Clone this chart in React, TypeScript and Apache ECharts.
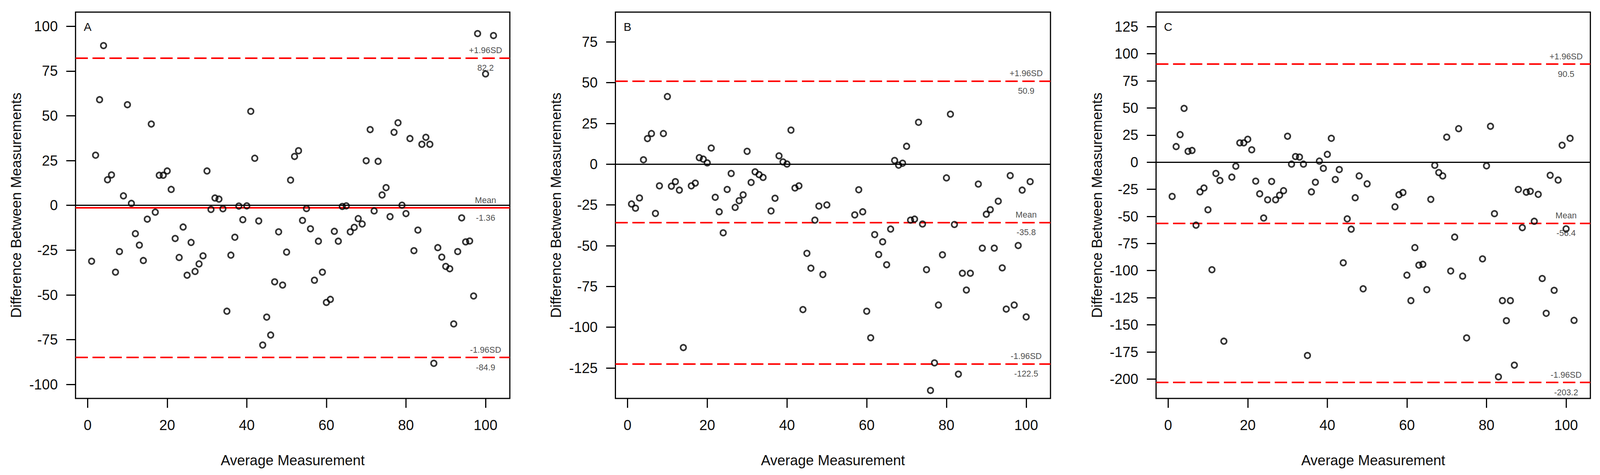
import React, { useEffect, useRef, useState } from "react";
import * as echarts from "echarts";

// ---------------- data ----------------
const A_X = [1,2,3,4,5,6,7,8,9,10,11,12,13,14,15,16,17,18,19,20,21,22,23,24,25,26,27,28,29,30,31,32,33,34,35,36,37,38,39,40,41,42,43,44,45,46,47,48,49,50,51,52,53,54,55,56,57,58,59,60,61,62,63,64,65,66,67,68,69,70,71,72,73,74,75,76,77,78,79,80,81,82,83,84,85,86,87,88,89,90,91,92,93,94,95,96,97,98,100,102];
const A_Y = [-31.2,28.0,59.0,89.2,14.3,17.0,-37.3,-25.8,5.3,56.2,1.1,-15.8,-22.2,-30.8,-7.7,45.4,-3.8,16.8,16.8,19.2,8.9,-18.5,-29.1,-12.1,-39.0,-20.7,-36.9,-32.7,-28.2,19.2,-2.3,4.1,3.5,-1.9,-59.1,-27.8,-17.8,-0.4,-8.0,-0.3,52.5,26.3,-8.7,-78.0,-62.4,-72.4,-42.7,-14.8,-44.5,-26.1,14.1,27.3,30.5,-8.4,-1.8,-13.1,-41.8,-20.0,-37.3,-54.2,-52.5,-14.5,-20.0,-0.6,-0.3,-14.8,-12.3,-7.4,-10.4,24.9,42.3,-3.1,24.6,5.8,9.9,-6.3,40.8,46.1,0.1,-4.6,37.3,-25.3,-13.8,34.1,38.0,34.1,-88.2,-23.6,-28.9,-34.1,-35.4,-66.2,-25.8,-7.0,-20.4,-19.9,-50.6,95.9,73.4,94.8];

const B_X = [1,2,3,4,5,6,7,8,9,10,11,12,13,14,16,17,18,19,20,21,22,23,24,25,26,27,28,29,30,31,32,33,34,36,37,38,39,40,41,42,43,44,45,46,47,48,49,50,57,58,59,60,61,62,63,64,65,66,67,68,69,70,71,72,73,74,75,76,77,78,79,80,81,82,83,84,85,86,88,89,90,91,92,93,94,95,96,97,98,99,100,101];
const B_Y = [-24.4,-27.0,-20.7,2.7,15.7,18.8,-30.2,-13.3,18.8,41.5,-13.5,-10.7,-15.9,-112.5,-13.3,-11.6,4.0,3.1,0.8,9.9,-20.3,-29.2,-42.1,-15.5,-5.7,-26.5,-22.4,-18.8,7.9,-11.2,-4.7,-6.4,-8.1,-28.7,-20.9,5.1,1.4,0.1,20.9,-14.6,-13.3,-89.2,-54.7,-63.8,-34.3,-25.7,-67.7,-25.0,-31.1,-15.7,-29.2,-90.2,-106.5,-43.2,-55.4,-47.6,-61.7,-39.8,2.3,-0.6,0.6,11.0,-34.3,-33.7,25.7,-36.7,-64.7,-138.8,-121.9,-86.4,-55.6,-8.4,30.7,-37.0,-128.8,-66.9,-77.2,-66.9,-12.2,-51.5,-30.7,-27.9,-51.5,-22.7,-63.6,-88.9,-7.0,-86.4,-49.9,-15.9,-93.7,-10.7];

const C_X = [1,2,3,4,5,6,7,8,9,10,11,12,13,14,16,17,18,19,20,21,22,23,24,25,26,27,28,29,30,31,32,33,34,35,36,37,38,39,40,41,42,43,44,45,46,47,48,49,50,57,58,59,60,61,62,63,64,65,66,67,68,69,70,71,72,73,74,75,79,80,81,82,83,84,85,86,87,88,89,90,91,92,93,94,95,96,97,98,99,100,101,102];
const C_Y = [-31.6,14.4,25.4,49.6,10.0,10.8,-58.1,-27.4,-23.8,-43.9,-99.2,-10.4,-16.9,-165.1,-13.8,-3.7,17.8,17.8,21.1,11.4,-17.5,-29.2,-51.5,-34.7,-17.8,-34.7,-30.5,-26.3,23.9,-1.8,5.2,4.7,-1.8,-178.3,-27.4,-18.5,1.0,-5.7,7.2,22.0,-16.0,-6.8,-92.8,-52.3,-61.8,-32.8,-12.7,-116.8,-20.0,-41.2,-30.0,-28.0,-104.2,-127.7,-78.8,-95.0,-94.2,-117.6,-34.3,-2.9,-9.6,-12.7,23.1,-100.4,-69.1,30.9,-105.1,-162.1,-89.2,-3.4,33.1,-47.5,-198.0,-127.7,-146.2,-127.7,-187.2,-25.2,-60.4,-27.7,-26.9,-54.5,-29.7,-107.3,-139.4,-12.1,-118.2,-16.5,15.6,-61.5,22.0,-145.9];

const PANEL_NAMES = ["A", "B", "C"];
const UPPER = [82.2, 50.9, 90.5];
const MEAN = [-1.36, -35.8, -56.4];
const LOWER = [-84.9, -122.5, -203.2];
const UPPER_TEXT = ["82.2", "50.9", "90.5"];
const MEAN_TEXT = ["-1.36", "-35.8", "-56.4"];
const LOWER_TEXT = ["-84.9", "-122.5", "-203.2"];
const LABEL_X = 100;

const X_TICKS = [0, 20, 40, 60, 80, 100];
const A_Y_TICKS = [-100, -75, -50, -25, 0, 25, 50, 75, 100];
const B_Y_TICKS = [-125, -100, -75, -50, -25, 0, 25, 50, 75];
const C_Y_TICKS = [-200, -175, -150, -125, -100, -75, -50, -25, 0, 25, 50, 75, 100, 125];

const X_MIN = -3.04;
const X_MAX = 106.1;
const Y_MIN = [-107.8, -143.7, -217.9];
const Y_MAX = [107.9, 93.3, 138.4];

// ---------------- layout / style ----------------
const DESIGN_W = 4152;
const DESIGN_H = 1216;
const FONT = "'Liberation Sans', Arial, Helvetica, sans-serif";
const GRIDS = [
  { left: 196, width: 1127 },
  { left: 1597, width: 1129 },
  { left: 3000, width: 1127 },
];
const GRID_TOP = 31;
const GRID_HEIGHT = 989;
const TEXT_COLOR = "#0d0d0d";
const NOTE_COLOR = "#1a1a1a";
const RED = "#ff0000";
const DASH = [32, 12];

function buildOption() {
  const xs = [A_X, B_X, C_X];
  const ys = [A_Y, B_Y, C_Y];
  const yTicks = [A_Y_TICKS, B_Y_TICKS, C_Y_TICKS];

  const grid = GRIDS.map((g) => ({
    left: g.left,
    top: GRID_TOP,
    width: g.width,
    height: GRID_HEIGHT,
    show: true,
    borderColor: "#000",
    borderWidth: 3,
    backgroundColor: "transparent",
    containLabel: false,
    outerBoundsMode: "none",
  }));

  const xAxis = GRIDS.map((_, i) => ({
    type: "value",
    gridIndex: i,
    min: X_MIN,
    max: X_MAX,
    axisLine: { show: false, onZero: false },
    splitLine: { show: false },
    axisTick: {
      show: true,
      customValues: X_TICKS,
      length: 24,
      lineStyle: { color: "#000", width: 3 },
    },
    axisLabel: {
      customValues: X_TICKS,
      margin: 50,
      fontSize: 37,
      color: TEXT_COLOR,
      fontFamily: FONT,
    },
    name: "Average Measurement",
    nameLocation: "middle",
    nameGap: 140,
    nameTextStyle: { fontSize: 37, color: TEXT_COLOR, fontFamily: FONT },
  }));

  const yAxis = GRIDS.map((_, i) => ({
    type: "value",
    gridIndex: i,
    min: Y_MIN[i],
    max: Y_MAX[i],
    axisLine: { show: false, onZero: false },
    splitLine: { show: false },
    axisTick: {
      show: true,
      customValues: yTicks[i],
      length: 24,
      lineStyle: { color: "#000", width: 3 },
    },
    axisLabel: {
      customValues: yTicks[i],
      margin: 46,
      fontSize: 37,
      color: TEXT_COLOR,
      fontFamily: FONT,
    },
    name: "Difference Between Measurements",
    nameLocation: "middle",
    nameRotate: 90,
    nameGap: 135,
    nameTextStyle: { fontSize: 37, color: TEXT_COLOR, fontFamily: FONT },
  }));

  const series: any[] = [];
  GRIDS.forEach((_, i) => {
    series.push({
      type: "scatter",
      xAxisIndex: i,
      yAxisIndex: i,
      data: xs[i].map((x, k) => [x, ys[i][k]]),
      symbol: "circle",
      symbolSize: 14.5,
      itemStyle: { color: "rgba(0,0,0,0)", borderColor: "#000", borderWidth: 4 },
      z: 3,
      markLine: {
        silent: true,
        symbol: ["none", "none"],
        label: { show: false },
        z: 2,
        data: [
          { yAxis: 0, lineStyle: { color: "#000", width: 3, type: "solid" } },
          { yAxis: UPPER[i], lineStyle: { color: RED, width: 4, type: DASH } },
          { yAxis: MEAN[i], lineStyle: { color: RED, width: 4, type: i === 0 ? "solid" : DASH } },
          { yAxis: LOWER[i], lineStyle: { color: RED, width: 4, type: DASH } },
        ],
      },
    });
    series.push({
      type: "scatter",
      xAxisIndex: i,
      yAxisIndex: i,
      symbolSize: 0,
      silent: true,
      z: 4,
      data: [
        { value: [LABEL_X, UPPER[i]], name: "+1.96SD" },
        { value: [LABEL_X, MEAN[i]], name: "Mean" },
        { value: [LABEL_X, LOWER[i]], name: "-1.96SD" },
      ],
      label: {
        show: true,
        position: "top",
        distance: 9,
        formatter: "{b}",
        fontSize: 22,
        color: NOTE_COLOR,
        fontFamily: FONT,
      },
    });
    series.push({
      type: "scatter",
      xAxisIndex: i,
      yAxisIndex: i,
      symbolSize: 0,
      silent: true,
      z: 4,
      data: [
        { value: [LABEL_X, UPPER[i]], name: UPPER_TEXT[i] },
        { value: [LABEL_X, MEAN[i]], name: MEAN_TEXT[i] },
        { value: [LABEL_X, LOWER[i]], name: LOWER_TEXT[i] },
      ],
      label: {
        show: true,
        position: "bottom",
        distance: 14,
        formatter: "{b}",
        fontSize: 22,
        color: NOTE_COLOR,
        fontFamily: FONT,
      },
    });
  });

  return {
    animation: false,
    backgroundColor: "#fff",
    grid,
    xAxis,
    yAxis,
    series,
  };
}

export default function App() {
  const ref = useRef<HTMLDivElement>(null);
  const [scale] = useState(() => {
    const w = typeof window !== "undefined" && window.innerWidth ? window.innerWidth : DESIGN_W;
    const h = typeof window !== "undefined" && window.innerHeight ? window.innerHeight : DESIGN_H;
    return { sx: w / DESIGN_W, sy: h / DESIGN_H };
  });

  useEffect(() => {
    if (!ref.current) return;
    const chart = echarts.init(ref.current, null, { renderer: "svg" });
    chart.setOption(buildOption() as any);
    const graphic = PANEL_NAMES.map((t, i) => {
      const px = chart.convertToPixel({ xAxisIndex: i } as any, 0) as number;
      return {
        type: "text",
        x: px,
        y: 68,
        style: {
          text: t,
          fontSize: 30,
          fontFamily: FONT,
          fill: TEXT_COLOR,
          align: "center",
          verticalAlign: "middle",
        },
      };
    });
    chart.setOption({ graphic } as any);
    return () => chart.dispose();
  }, []);

  return (
    <div
      style={{
        position: "fixed",
        left: 0,
        top: 0,
        width: "100vw",
        height: "100vh",
        overflow: "hidden",
        background: "#fff",
      }}
    >
      <div
        ref={ref}
        style={{
          position: "absolute",
          left: 0,
          top: 0,
          width: DESIGN_W,
          height: DESIGN_H,
          transform: `scale(${scale.sx}, ${scale.sy})`,
          transformOrigin: "0 0",
          background: "#fff",
        }}
      />
    </div>
  );
}
